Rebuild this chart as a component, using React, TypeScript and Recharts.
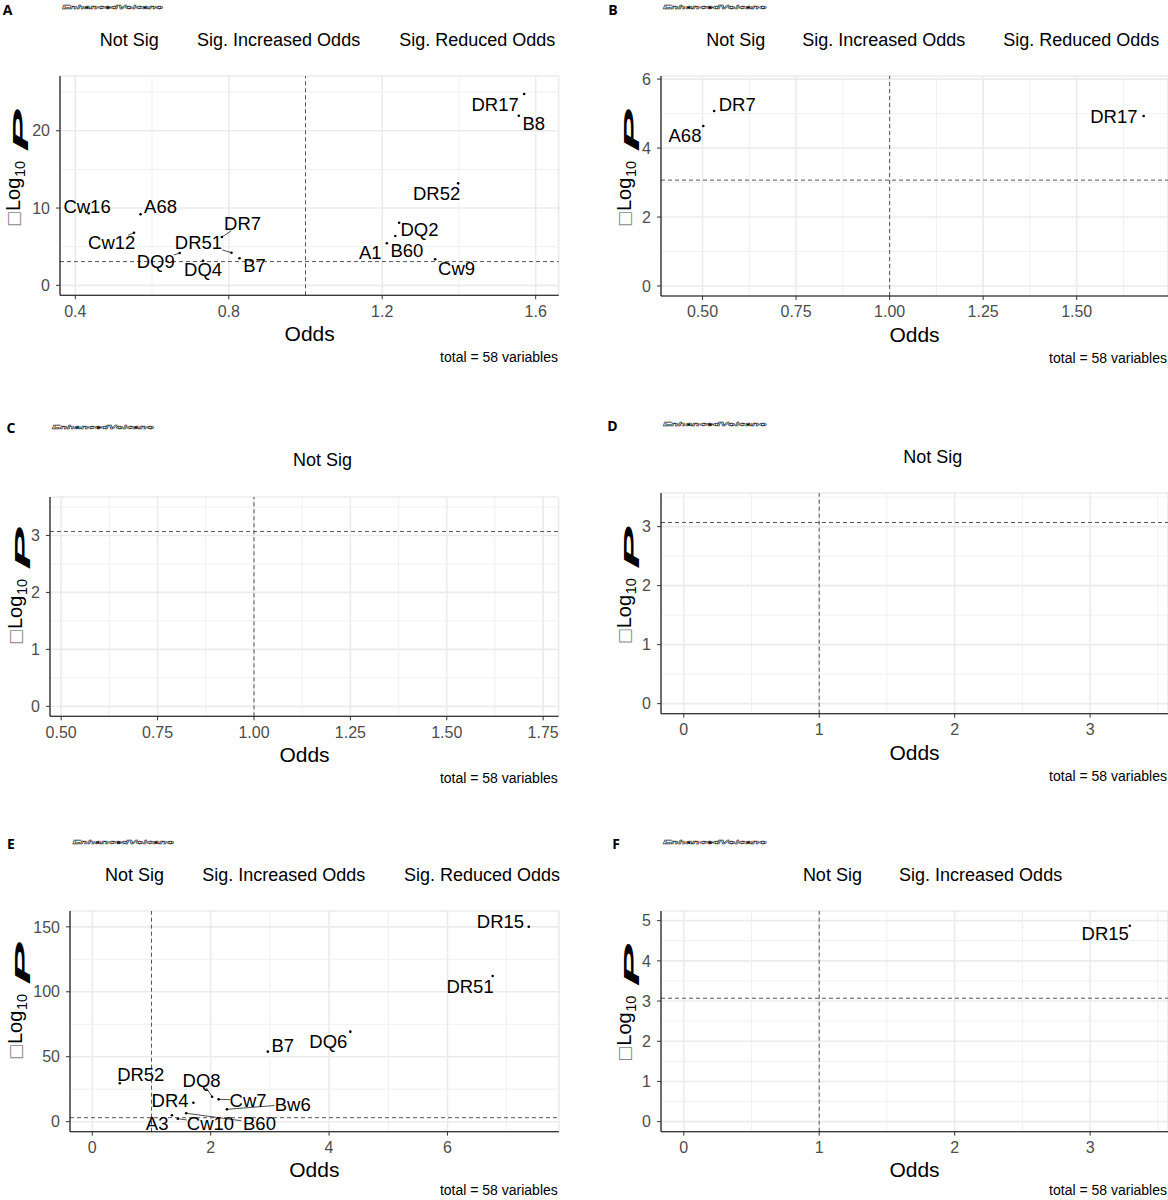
import React from "react";
import {
  ScatterChart,
  Scatter,
  XAxis,
  YAxis,
  CartesianGrid,
  ReferenceLine,
} from "recharts";

// shared bits of the figure
const oddsCutoff = 1;
const logPCutoff = 3.07;
const totalText = "total = 58 variables";
const titleText = "EnhancedVolcano";
const xTitle = "Odds";

const legendFull = ["Not Sig", "Sig. Increased Odds", "Sig. Reduced Odds"];
const legendNotSig = ["Not Sig"];
const legendTwo = ["Not Sig", "Sig. Increased Odds"];

// panel A
const aLabels = ["DR17", "B8", "DR52", "DQ2", "B60", "A1", "Cw9", "Cw16", "A68", "Cw12", "DR7", "DR51", "DQ9", "DQ4", "B7"];
const aOdds = [1.57, 1.556, 1.398, 1.244, 1.234, 1.212, 1.338, 0.435, 0.57, 0.553, 0.782, 0.807, 0.672, 0.733, 0.828];
const aLogP = [24.76, 21.95, 13.2, 8.1, 6.38, 5.44, 3.37, 9.32, 9.19, 6.81, 6.25, 4.22, 4.18, 3.19, 3.5];
const aXTicks = [0.4, 0.8, 1.2, 1.6];
const aYTicks = [0, 10, 20];

// panel B
const bLabels = ["A68", "DR7", "DR17"];
const bOdds = [0.502, 0.531, 1.679];
const bLogP = [4.64, 5.075, 4.93];
const bXTicks = [0.5, 0.75, 1.0, 1.25, 1.5];
const bYTicks = [0, 2, 4, 6];

// panel C (nothing labelled)
const cXTicks = [0.5, 0.75, 1.0, 1.25, 1.5, 1.75];
const cYTicks = [0, 1, 2, 3];

// panel D (nothing labelled)
const dXTicks = [0, 1, 2, 3];
const dYTicks = [0, 1, 2, 3];

// panel E
const eLabels = ["DR15", "DR51", "DQ6", "B7", "DR52", "DQ8", "DR4", "Cw7", "Bw6", "A3", "Cw10", "B60"];
const eOdds = [7.374, 6.764, 4.359, 2.965, 0.464, 2.024, 1.708, 2.135, 2.274, 1.345, 1.444, 1.586];
const eLogP = [150.1, 112.2, 69.3, 53.9, 29.6, 19.2, 14.6, 17.2, 9.5, 4.9, 2.3, 6.5];
const eXTicks = [0, 2, 4, 6];
const eYTicks = [0, 50, 100, 150];

// panel F
const fLabels = ["DR15"];
const fOdds = [3.293];
const fLogP = [4.87];
const fXTicks = [0, 1, 2, 3];
const fYTicks = [0, 1, 2, 3, 4, 5];

type Nudge = { dx: number; dy: number; seg?: boolean };

// where ggrepel put each label, relative to its point (px)
const aNudge: Record<string, Nudge> = {
  DR17: { dx: -29, dy: 10 },
  B8: { dx: 15, dy: 7.6 },
  DR52: { dx: -21.6, dy: 10 },
  DQ2: { dx: 20.4, dy: 6.3 },
  B60: { dx: 11.6, dy: 14 },
  A1: { dx: -16.6, dy: 9 },
  Cw9: { dx: 21.4, dy: 9 },
  Cw16: { dx: -1.7, dy: -7.3 },
  A68: { dx: 20, dy: -7.6 },
  Cw12: { dx: -22.3, dy: 10, seg: true },
  DR7: { dx: 20.7, dy: -13.7, seg: true },
  DR51: { dx: -33, dy: -10, seg: true },
  DQ9: { dx: -24, dy: 8, seg: true },
  DQ4: { dx: 0, dy: 9.3 },
  B7: { dx: 15, dy: 7.7 },
};
const bNudge: Record<string, Nudge> = {
  A68: { dx: -18.3, dy: 9 },
  DR7: { dx: 23.1, dy: -7 },
  DR17: { dx: -29.8, dy: 0.7 },
};
const eNudge: Record<string, Nudge> = {
  DR15: { dx: -28.3, dy: -5 },
  DR51: { dx: -22.6, dy: 10.7 },
  DQ6: { dx: -22, dy: 10.3 },
  B7: { dx: 15, dy: -5.7 },
  DR52: { dx: 21, dy: -8.3 },
  DQ8: { dx: -10.5, dy: -16, seg: true },
  DR4: { dx: -23.3, dy: -2 },
  Cw7: { dx: 29.4, dy: 0.7, seg: true },
  Bw6: { dx: 65.8, dy: -5.3, seg: true },
  A3: { dx: -14.8, dy: 8 },
  Cw10: { dx: 32.7, dy: 4.6, seg: true },
  B60: { dx: 73.3, dy: 10, seg: true },
};
const fNudge: Record<string, Nudge> = {
  DR15: { dx: -24.6, dy: 7.3 },
};

const toPoints = (labels: string[], odds: number[], logp: number[]) =>
  labels.map((label, i) => ({ label, x: odds[i], y: logp[i] }));

const FONT = "'Liberation Sans', Arial, Helvetica, sans-serif";
const LABEL_SIZE = 18.5;
const YW = 50;
const MT = 10;
const MR = 10;
const XH = 40;

interface PanelCfg {
  id: string;
  plot: { l: number; t: number; r: number; b: number };
  xDomain: [number, number];
  yDomain: [number, number];
  xTicks: number[];
  yTicks: number[];
  xDec: number;
  points: { label: string; x: number; y: number }[];
  nudge: Record<string, Nudge>;
  legend: string[];
  legendX: number[];
  letter: [number, number];
  title: [number, number, number];
  yLab: [number, number];
}

const panels: PanelCfg[] = [
  {
    id: "A",
    plot: { l: 60.3, t: 76, r: 559, b: 295.3 },
    xDomain: [0.36, 1.66],
    yDomain: [-1.29, 27.09],
    xTicks: aXTicks,
    yTicks: aYTicks,
    xDec: 1,
    points: toPoints(aLabels, aOdds, aLogP),
    nudge: aNudge,
    legend: legendFull,
    legendX: [129.2, 278.6, 477.2],
    letter: [7.5, 9.5],
    title: [62, 163, 6.5],
    yLab: [20, 227],
  },
  {
    id: "B",
    plot: { l: 661, t: 76, r: 1168, b: 296 },
    xDomain: [0.389, 1.744],
    yDomain: [-0.29, 6.09],
    xTicks: bXTicks,
    yTicks: bYTicks,
    xDec: 2,
    points: toPoints(bLabels, bOdds, bLogP),
    nudge: bNudge,
    legend: legendFull,
    legendX: [735.8, 883.8, 1081.2],
    letter: [613, 9.5],
    title: [663, 766.5, 6.5],
    yLab: [630.5, 227],
  },
  {
    id: "C",
    plot: { l: 50.2, t: 496.7, r: 558.8, b: 716 },
    xDomain: [0.471, 1.79],
    yDomain: [-0.175, 3.675],
    xTicks: cXTicks,
    yTicks: cYTicks,
    xDec: 2,
    points: [],
    nudge: {},
    legend: legendNotSig,
    legendX: [322.5],
    letter: [11, 427.5],
    title: [52, 154, 426.5],
    yLab: [22, 645],
  },
  {
    id: "D",
    plot: { l: 661, t: 493.3, r: 1168, b: 714 },
    xDomain: [-0.168, 3.575],
    yDomain: [-0.17, 3.57],
    xTicks: dXTicks,
    yTicks: dYTicks,
    xDec: 0,
    points: [],
    nudge: {},
    legend: legendNotSig,
    legendX: [932.8],
    letter: [612.5, 425],
    title: [663, 766.5, 424],
    yLab: [630.5, 644.3],
  },
  {
    id: "E",
    plot: { l: 69.9, t: 911, r: 558.8, b: 1131.7 },
    xDomain: [-0.377, 7.883],
    yDomain: [-7.7, 162.2],
    xTicks: eXTicks,
    yTicks: eYTicks,
    xDec: 0,
    points: toPoints(eLabels, eOdds, eLogP),
    nudge: eNudge,
    legend: legendFull,
    legendX: [134.6, 283.7, 482],
    letter: [11, 843],
    title: [72.5, 174, 842],
    yLab: [21.6, 1060],
  },
  {
    id: "F",
    plot: { l: 661, t: 911, r: 1168, b: 1131.7 },
    xDomain: [-0.168, 3.575],
    yDomain: [-0.25, 5.24],
    xTicks: fXTicks,
    yTicks: fYTicks,
    xDec: 0,
    points: toPoints(fLabels, fOdds, fLogP),
    nudge: fNudge,
    legend: legendTwo,
    legendX: [832.4, 980.6],
    letter: [616, 843],
    title: [663, 766.5, 842],
    yLab: [630.5, 1061.7],
  },
];

// midpoints between major ticks (ggplot minor grid)
function minorOf(ticks: number[], domain: [number, number]) {
  const step = ticks[1] - ticks[0];
  const out: number[] = [];
  for (let i = -1; i < ticks.length; i++) {
    const v = ticks[0] + step * (i + 0.5);
    if (v > domain[0] && v < domain[1]) out.push(v);
  }
  return out;
}

function labelShape(nudge: Record<string, Nudge>) {
  return (props: any) => {
    const { cx, cy, payload } = props;
    if (cx == null || cy == null || !payload) return <g />;
    const n = nudge[payload.label] || { dx: 0, dy: 0 };
    let seg: React.ReactNode = null;
    if (n.seg) {
      const hw = payload.label.length * 0.3 * LABEL_SIZE + 1.5;
      const hh = 0.4 * LABEL_SIZE;
      const s = Math.min(
        hw / Math.max(Math.abs(n.dx), 1e-6),
        hh / Math.max(Math.abs(n.dy), 1e-6)
      );
      if (s < 1) {
        seg = (
          <line
            x1={cx}
            y1={cy}
            x2={cx + n.dx * (1 - s)}
            y2={cy + n.dy * (1 - s)}
            stroke="#000"
            strokeWidth={0.7}
          />
        );
      }
    }
    return (
      <g>
        {seg}
        <circle cx={cx} cy={cy} r={1.3} fill="#000" />
        <text
          x={cx + n.dx}
          y={cy + n.dy}
          textAnchor="middle"
          dominantBaseline="central"
          fontSize={LABEL_SIZE}
          fontFamily={FONT}
          fill="#000"
        >
          {payload.label}
        </text>
      </g>
    );
  };
}

function Panel({ p }: { p: PanelCfg }) {
  const { l, t, r, b } = p.plot;
  const width = r - l + YW + MR;
  const height = b - t + MT + XH;
  const xMinor = minorOf(p.xTicks, p.xDomain);
  const yMinor = minorOf(p.yTicks, p.yDomain);
  const tickStyle = { fill: "#4D4D4D", fontSize: 16, fontFamily: FONT };
  // empty panels need the fixed domain taken as is
  const fixed = p.points.length === 0;

  return (
    <div style={{ position: "absolute", left: l - YW, top: t - MT }}>
      <ScatterChart
        width={width}
        height={height}
        margin={{ top: MT, right: MR, bottom: 0, left: 0 }}
      >
        <CartesianGrid stroke="#EBEBEB" strokeWidth={1.6} />
        {xMinor.map((v) => (
          <ReferenceLine key={"xm" + v} x={v} stroke="#F0F0F0" strokeWidth={1} />
        ))}
        {yMinor.map((v) => (
          <ReferenceLine key={"ym" + v} y={v} stroke="#F0F0F0" strokeWidth={1} />
        ))}
        <XAxis
          type="number"
          dataKey="x"
          domain={p.xDomain}
          allowDataOverflow={fixed}
          ticks={p.xTicks}
          interval={0}
          height={XH}
          tickFormatter={(v: number) => v.toFixed(p.xDec)}
          tick={tickStyle}
          tickSize={4}
          tickMargin={6}
          axisLine={{ stroke: "#000", strokeWidth: 1.1 }}
          tickLine={{ stroke: "#333" }}
        />
        <YAxis
          type="number"
          dataKey="y"
          domain={p.yDomain}
          allowDataOverflow={fixed}
          ticks={p.yTicks}
          interval={0}
          width={YW}
          tickFormatter={(v: number) => String(v)}
          tick={tickStyle}
          tickSize={4}
          tickMargin={6}
          axisLine={{ stroke: "#000", strokeWidth: 1.1 }}
          tickLine={{ stroke: "#333" }}
        />
        <ReferenceLine x={oddsCutoff} stroke="#555" strokeDasharray="4 3" strokeWidth={1} />
        <ReferenceLine y={logPCutoff} stroke="#555" strokeDasharray="4 3" strokeWidth={1} />
        <Scatter
          data={p.points}
          shape={labelShape(p.nudge)}
          isAnimationActive={false}
        />
      </ScatterChart>
    </div>
  );
}

function PanelTexts({ p }: { p: PanelCfg }) {
  const { l, t, r, b } = p.plot;
  const [tx0, tx1, ty] = p.title;
  const [bx, by] = p.yLab;
  return (
    <g fontFamily={FONT}>
      <text
        x={p.letter[0]}
        y={p.letter[1]}
        textAnchor="middle"
        dominantBaseline="central"
        fontSize={14}
        fontWeight="bold"
        fontFamily="'Open Sans', 'Liberation Sans', sans-serif"
      >
        {p.id}
      </text>
      <g transform={`translate(${tx0},${ty}) scale(1,0.45)`}>
        <text
          x={0}
          y={0}
          dominantBaseline="central"
          fontSize={13}
          fontWeight="bold"
          fontStyle="italic"
          textLength={tx1 - tx0}
          lengthAdjust="spacingAndGlyphs"
          fill="#fff"
          stroke="#111"
          strokeWidth={0.8}
        >
          {titleText}
        </text>
      </g>
      {p.legend.map((s, i) => (
        <text
          key={s}
          x={p.legendX[i]}
          y={t - 36.5}
          textAnchor="middle"
          dominantBaseline="central"
          fontSize={18}
          fill="#000"
        >
          {s}
        </text>
      ))}
      <g transform={`translate(${bx},${by}) rotate(-90)`}>
        <text x={0} y={-1} fontSize={17} fill="#888" fontFamily="'DejaVu Sans', sans-serif">
          □
        </text>
        <text x={16} y={0} fontSize={20} fill="#000">
          Log
        </text>
        <text x={50} y={5} fontSize={14.5} fill="#000">
          10
        </text>
        <g transform="translate(75,8) scale(2.9,1)">
          <text x={0} y={0} fontSize={22} fontWeight="bold" fontStyle="italic" fill="#000">
            P
          </text>
        </g>
      </g>
      <text
        x={(l + r) / 2}
        y={b + 38}
        textAnchor="middle"
        dominantBaseline="central"
        fontSize={21}
        fill="#000"
      >
        {xTitle}
      </text>
      <text
        x={r - 1}
        y={Math.min(b + 62, 1190)}
        textAnchor="end"
        dominantBaseline="central"
        fontSize={14}
        fill="#000"
      >
        {totalText}
      </text>
    </g>
  );
}

export default function App() {
  return (
    <div
      style={{
        position: "absolute",
        left: 0,
        top: 0,
        width: 1168,
        height: 1200,
        overflow: "hidden",
        background: "#fff",
      }}
    >
      {panels.map((p) => (
        <Panel key={p.id} p={p} />
      ))}
      <svg
        width={1168}
        height={1200}
        style={{ position: "absolute", left: 0, top: 0, pointerEvents: "none" }}
      >
        {panels.map((p) => (
          <PanelTexts key={p.id} p={p} />
        ))}
      </svg>
    </div>
  );
}
